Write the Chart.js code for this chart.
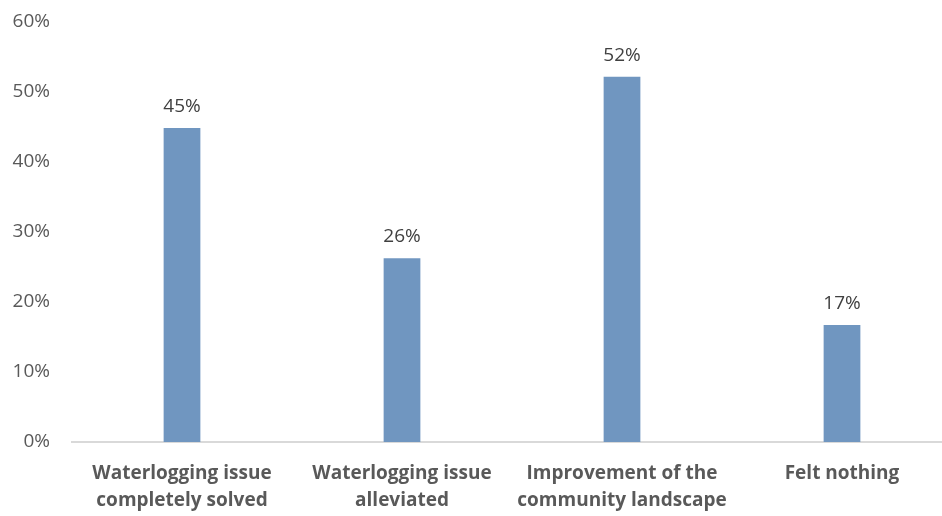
<!DOCTYPE html>
<html><head><meta charset="utf-8">
<script src="https://cdn.jsdelivr.net/npm/chart.js@4/dist/chart.umd.min.js"></script>
<style>html,body{margin:0;padding:0;background:#fff;overflow:hidden}#wrap{width:942px;height:516px;position:relative;overflow:hidden}#c{position:absolute;left:0;top:-12px}</style>
</head><body><div id="wrap"><canvas id="c" width="952" height="530"></canvas></div>
<script>
const categories = [["Waterlogging issue","completely solved"],["Waterlogging issue","alleviated"],["Improvement of the","community landscape"],["Felt nothing"]];
const values = [44.8, 26.2, 52.1, 16.7];
const valueLabels = ["45%","26%","52%","17%"];
const yTicks = [0,10,20,30,40,50,60];

const labelPlugin = {
  id:'valLabels',
  afterDatasetsDraw(chart){
    const ctx = chart.ctx;
    const meta = chart.getDatasetMeta(0);
    ctx.save();
    ctx.font = '19px "Open Sans", "Liberation Sans", sans-serif';
    ctx.fillStyle = '#404040';
    ctx.textAlign = 'center';
    ctx.textBaseline = 'bottom';
    meta.data.forEach((el,i)=>{ ctx.fillText(valueLabels[i], el.x, el.y - 12); });
    ctx.restore();
  }
};

new Chart(document.getElementById('c'),{
  type:'bar',
  data:{labels:categories,datasets:[{data:values,backgroundColor:'#7096c0',categoryPercentage:1,barPercentage:0.167}]},
  options:{
    responsive:false,animation:false,
    layout:{padding:0},
    plugins:{legend:{display:false},tooltip:{enabled:false}},
    scales:{
      x:{grid:{display:false,drawTicks:false},border:{color:'#d9d9d9',width:2},
         afterFit(s){s.height=76;},
         ticks:{color:'#595959',padding:18,maxRotation:0,font:{family:'"Open Sans", "Liberation Sans", sans-serif',size:19,weight:'bold',lineHeight:1.42}}},
      y:{min:0,max:60,grid:{display:false,drawTicks:false},border:{display:false},
         afterFit(s){s.width=72;},
         afterBuildTicks(s){s.ticks=yTicks.map(v=>({value:v}));},
         ticks:{color:'#595959',padding:22,font:{family:'"Open Sans", "Liberation Sans", sans-serif',size:19},callback:v=>v+'%'}}
    }
  },
  plugins:[labelPlugin]
});
</script></body></html>
